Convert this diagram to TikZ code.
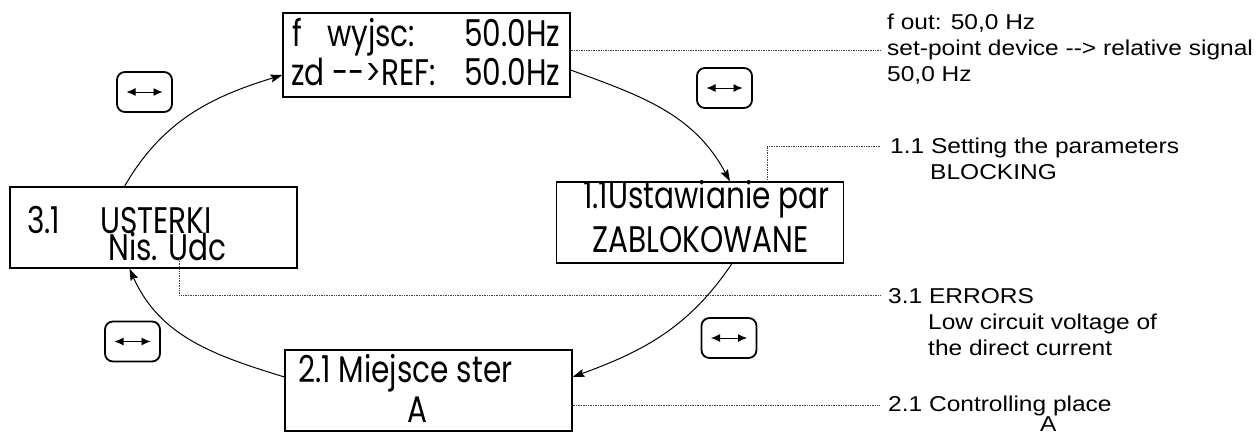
\documentclass[tikz,border=0pt]{standalone}
\usepackage{fontspec}
\usetikzlibrary{arrows.meta,calc}
% display font of the operator panel and font of the side notes
\newfontfamily\lcdfont{Poppins}[FakeStretch=0.8]
\newfontfamily\notefont{Liberation Sans}[FakeStretch=1.14]

\begin{document}
\begin{tikzpicture}[x=1pt,y=1pt,
  panel/.style={draw, line width=1.1pt, inner sep=0pt, minimum width=287pt, minimum height=81pt},
  lcd/.style={inner sep=0pt, anchor=base west, font=\lcdfont\fontsize{37}{38}\selectfont},
  note/.style={inner sep=0pt, anchor=base west, font=\notefont\fontsize{21.5}{26}\selectfont},
  key/.style={draw, line width=1.8pt, rounded corners=8pt, minimum width=55pt, minimum height=40pt,
    inner sep=0pt,
    path picture={\draw[line width=0.9pt, {Latex[length=9pt,width=8pt]}-{Latex[length=9pt,width=8pt]}]
      ([xshift=-18pt]path picture bounding box.center) -- ([xshift=18pt]path picture bounding box.center);}},
  flow/.style={line width=1pt, -{Stealth[length=12pt,width=8pt,inset=2pt]}},
  leader/.style={line width=0.8pt, black!75, dash pattern=on 0.8pt off 0.9pt}
]
\useasboundingbox (0,0) rectangle (1258,-434);

% display panels
\node[panel, minimum height=84pt] (top)    at (426.5,-55)  {};
\node[panel]                      (right)  at (700,-222.5) {};
\node[panel]                      (left)   at (153.5,-227.5) {};
\node[panel]                      (bottom) at (428.5,-390.5) {};

% panel texts
\node[lcd] (t1) at (292,-46) {\makebox[268pt][l]{\makebox[35pt][l]{f}wyjsc:\hfill 50.0Hz}};
\node[lcd] (t2) at (291,-85) {\makebox[269pt][l]{zd -{}-{}>REF:\hfill 50.0Hz}};
\node[lcd] (r1) at (583,-208) {1.1Ustawianie par};
\node[lcd] (r2) at (592,-252) {ZABLOKOWANE};
\node[lcd] (l1) at (27,-233)  {\makebox[73pt][l]{3.1}USTERKI};
\node[lcd] (l2) at (108,-260) {Nis. Udc};
\node[lcd] (b1) at (298,-382) {2.1 Miejsce ster};
\node[lcd, anchor=base] (b2) at (417,-422) {A};

% menu keys
\node[key] (k1) at (144.5,-92)  {};
\node[key] (k2) at (724.5,-88)  {};
\node[key] (k3) at (729,-338)   {};
\node[key] (k4) at (132.5,-341.5) {};

% menu cycle
\draw[flow] ($(left.north west)+(115,0)$) to[out=60,in=197] ($(top.west)+(0,-20)$);
\draw[flow] ($(top.east)+(0,-15)$) to[out=-20,in=118] ($(right.north west)+(174,0)$);
\draw[flow] ($(right.south west)+(176,0)$) to[out=-124,in=20] ($(bottom.east)+(0,13.5)$);
\draw[flow] ($(bottom.west)+(0,13.5)$) to[out=163,in=-66] ($(left.south west)+(120,0)$);

% notes
\node[note] (n1) at (887,-29)  {f out: 50,0 Hz};
\node[note] (n2) at (887,-55)  {set-point device -{}-{}> relative signal};
\node[note] (n3) at (887,-81)  {50,0 Hz};
\node[note] (n4) at (890,-153) {1.1 Setting the parameters};
\node[note] (n5) at (930,-179) {BLOCKING};
\node[note] (n6) at (888,-303) {3.1 ERRORS};
\node[note] (n7) at (928,-329) {Low circuit voltage of};
\node[note] (n8) at (928,-355) {the direct current};
\node[note] (n9) at (888,-411) {2.1 Controlling place};
\node[note] (n10) at (1040,-431) {A};

% leader lines from the panels to the notes
\coordinate (e1) at (880,-50);
\coordinate (e2) at (880,-146);
\coordinate (e3) at (880,-295);
\coordinate (e4) at (880,-405);
\draw[leader] (top.east |- e1) -- (e1);
\draw[leader] ($(right.north west)+(211,0)$) |- (e2);
\draw[leader] ($(left.south west)+(170,11)$) |- (e3);
\draw[leader] (bottom.east |- e4) -- (e4);
\end{tikzpicture}
\end{document}
